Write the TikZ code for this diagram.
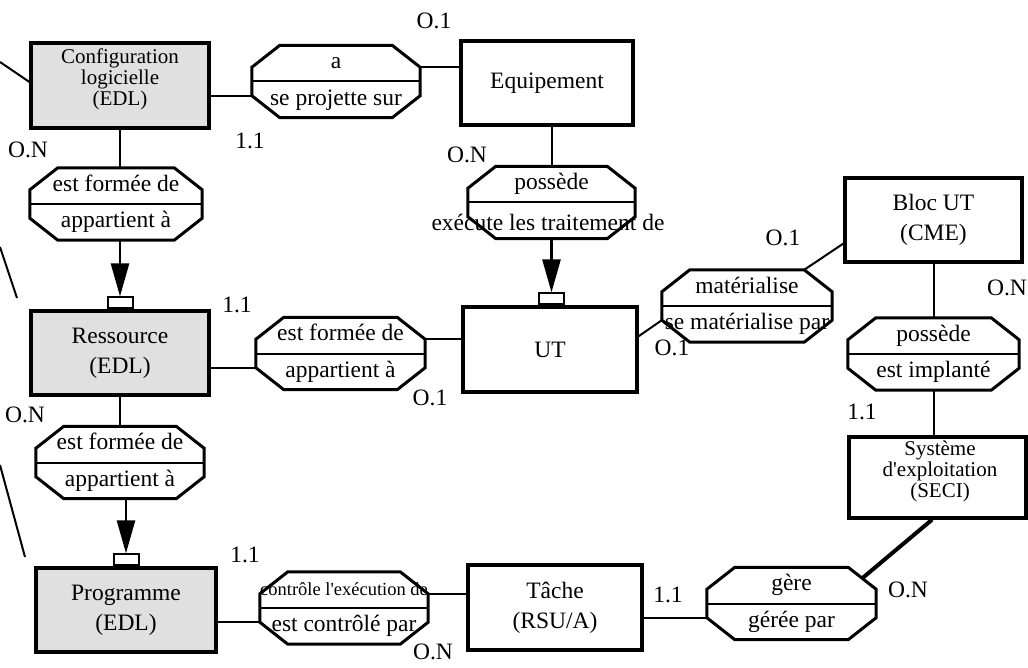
\documentclass[tikz,border=0pt]{standalone}
\usepackage{fontspec}
\setmainfont{Liberation Serif}[Ligatures=TeXOff]
\usetikzlibrary{calc,arrows.meta}

\tikzset{
  entity/.style={draw, line width=3.2pt, fill=white, inner sep=0pt, align=center,
    font=\fontsize{23.5}{30}\selectfont},
  shaded/.style={fill=black!12},
  smalltext/.style={inner sep=0pt, align=center, font=\fontsize{21}{21}\selectfont},
  relframe/.style={inner sep=0pt, minimum height=72pt},
  octline/.style={draw, line width=3pt, fill=white, line join=miter},
  reltext/.style={inner sep=0pt, text height=16pt, text depth=5pt,
    font=\fontsize{23.5}{28}\selectfont},
  card/.style={inner sep=0pt, text height=16pt, text depth=5pt,
    font=\fontsize{23.5}{28}\selectfont},
  link/.style={line width=2pt},
  heavylink/.style={line width=4pt},
  isa/.style={line width=2.5pt, -{Triangle[length=33pt,width=18pt]}},
  tabbox/.style={draw, line width=2pt, fill=white, minimum width=25pt,
    minimum height=11pt, inner sep=0pt},
}

% relation: octagon with an upper and a lower reading
% #1 name, #2 x, #3 y, #4 width, #5 upper text, #6 lower text
\newcommand\relation[6]{%
  \node[relframe, minimum width=#4pt] (#1) at (#2,#3) {};
  \coordinate (#1-tl) at ($(#1.north west)+(28,0)$);
  \coordinate (#1-tr) at ($(#1.north east)+(-28,0)$);
  \coordinate (#1-rt) at ($(#1.north east)+(0,22)$);
  \coordinate (#1-rb) at ($(#1.south east)+(0,-22)$);
  \coordinate (#1-br) at ($(#1.south east)+(-28,0)$);
  \coordinate (#1-bl) at ($(#1.south west)+(28,0)$);
  \coordinate (#1-lb) at ($(#1.south west)+(0,-22)$);
  \coordinate (#1-lt) at ($(#1.north west)+(0,22)$);
  \draw[octline] (#1-tl) -- (#1-tr) -- (#1-rt) -- (#1-rb) -- (#1-br)
    -- (#1-bl) -- (#1-lb) -- (#1-lt) -- cycle;
  \draw[line width=2pt] (#1.west) -- (#1.east);
  \node[reltext] (#1-up) at ($(#1.center)!0.5!(#1.north)$) {#5};
  \node[reltext] (#1-dn) at ($(#1.center)!0.5!(#1.south)$) {#6};
}

\begin{document}
\begin{tikzpicture}[x=1pt,y=-1pt]
\path[fill=white] (0,0) rectangle (1028,668);
\useasboundingbox (0,0) rectangle (1028,668);

% ---- entities ----
\node[entity, shaded, minimum width=178pt, minimum height=85pt] (conf) at (120,85.5) {};
\node[smalltext] (conf-name) at (120,79) {Configuration\\logicielle\\(EDL)};
\node[entity, minimum width=172pt, minimum height=84pt] (equip) at (547,83) {Equipement};
\node[entity, shaded, minimum width=178pt, minimum height=84pt] (ress) at (120,353) {Ressource\\(EDL)};
\node[entity, minimum width=174pt, minimum height=85pt] (ut) at (550,349.5) {UT};
\node[entity, minimum width=177pt, minimum height=84pt] (bloc) at (933.5,220) {Bloc UT\\(CME)};
\node[entity, minimum width=177pt, minimum height=81pt] (sys) at (937.5,477.5) {};
\node[smalltext] (sys-name) at (940,471) {Système\\d'exploitation\\(SECI)};
\node[entity, shaded, minimum width=180pt, minimum height=84pt] (prog) at (126,610) {Programme\\(EDL)};
\node[entity, minimum width=174pt, minimum height=85pt] (tache) at (555,607.5) {Tâche\\(RSU/A)};

% ---- relations ----
\relation{hasEq}{336}{81.5}{168}{a}{se projette sur}
\relation{cfForm}{116}{204}{172}{est formée de}{appartient à}
\relation{eqPoss}{551.5}{202.5}{167}{possède}{}
\relation{resUt}{340.5}{353.5}{169}{est formée de}{appartient à}
\relation{blocMat}{747}{306}{170}{matérialise}{se matérialise par}
\relation{blocPoss}{933.5}{354}{171}{possède}{est implanté}
\relation{resForm}{120}{462.5}{168}{est formée de}{appartient à}
\relation{progCtrl}{344}{608}{168}{\fontsize{18.5}{20}\selectfont contrôle l'exécution de}{est contrôlé par}
\relation{sysGere}{791.5}{603.5}{169}{gère}{gérée par}
\node[reltext] (eqPoss-long) at (548,225) {exécute les traitement de};

% ---- sub-type tabs ----
\node[tabbox, anchor=south] (ress-tab) at (ress.north) {};
\node[tabbox, anchor=south] (ut-tab) at (eqPoss.south |- ut.north) {};
\node[tabbox, anchor=south] (prog-tab) at (prog.north) {};

% ---- connectors ----
\draw[link] (hasEq-lb) -- (hasEq-lb -| conf.east);
\draw[link] (hasEq-rt) -- (hasEq-rt -| equip.west);
\draw[link] (conf.south) -- (conf.south |- cfForm.north);
\draw[isa] (ress-tab.north |- cfForm.south) -- (ress-tab.north);
\draw[link] (eqPoss.north |- equip.south) -- (eqPoss.north);
\draw[isa] (eqPoss.south) -- (ut-tab.north);
\draw[link] (resUt-lb) -- (resUt-lb -| ress.east);
\draw[link] (resUt-rt) -- (resUt-rt -| ut.west);
\draw[link] ($(ut.north east)!0.35!(ut.south east)$) -- (blocMat-lb);
\draw[link] (blocMat-tr) -- ($(bloc.south west)!0.23!(bloc.north west)$);
\draw[link] (blocPoss.north |- bloc.south) -- (blocPoss.north);
\draw[link] (blocPoss.south) -- (blocPoss.south |- sys.north);
\draw[link] (ress.south) -- (ress.south |- resForm.north);
\draw[isa] (prog-tab.north |- resForm.south) -- (prog-tab.north);
\draw[link] (progCtrl-lb) -- (progCtrl-lb -| prog.east);
\draw[link] (progCtrl-rt) -- (progCtrl-rt -| tache.west);
\draw[link] (sysGere-lb) -- (sysGere-lb -| tache.east);
\coordinate (sysGere-corner) at ($(sysGere-tr)!0.5!(sysGere-rt)$);
\draw[heavylink] ($(sys.south west)!0.47!(sys.south east)$) -- (sysGere-corner);

% ---- links leaving on the left ----
\coordinate (edgeA) at (0,62);
\draw[link] (edgeA) -- ($(conf.north west)!0.46!(conf.south west)$);
\coordinate (edgeB1) at (0,247);
\coordinate (edgeB2) at (17,298);
\draw[link] (edgeB1) -- (edgeB2);
\coordinate (edgeC1) at (0,465);
\coordinate (edgeC2) at (25,557);
\draw[link] (edgeC1) -- (edgeC2);

% ---- cardinalities ----
\node[card] (c1) at (434,23) {O.1};
\node[card] (c2) at (250,143) {1.1};
\node[card] (c3) at (28,152) {O.N};
\node[card] (c4) at (467,157) {O.N};
\node[card] (c5) at (783,240) {O.1};
\node[card] (c6) at (1007,290) {O.N};
\node[card] (c7) at (237,307) {1.1};
\node[card] (c8) at (672,350) {O.1};
\node[card] (c9) at (430,400) {O.1};
\node[card] (c10) at (25,417) {O.N};
\node[card] (c11) at (862,414) {1.1};
\node[card] (c12) at (245,557) {1.1};
\node[card] (c13) at (668,597) {1.1};
\node[card] (c14) at (908,592) {O.N};
\node[card] (c15) at (433,654) {O.N};
\end{tikzpicture}
\end{document}
